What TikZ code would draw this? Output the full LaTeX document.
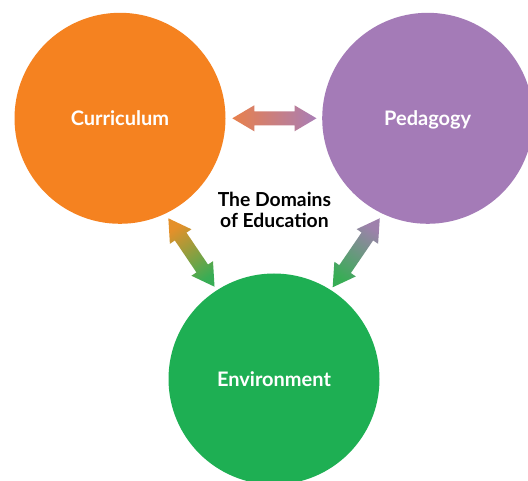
\documentclass[tikz,border=0pt]{standalone}
\usepackage{fontspec}
\setmainfont{Lato}
\usetikzlibrary{calc}

\definecolor{domOrange}{HTML}{F58220}
\definecolor{domPurple}{HTML}{A47BB7}
\definecolor{domGreen}{HTML}{1EAF53}
\definecolor{arrOrange}{HTML}{E8804C}
\definecolor{arrPurple}{HTML}{A97EB6}
\definecolor{arrGold}{HTML}{E4902A}
\definecolor{arrGreen}{HTML}{38AD55}
\definecolor{arrMauve}{HTML}{9E81AC}

% Block double arrow from #1 to #2: shaft half-width 7pt, head half-width 13pt, head length 22pt
\newcommand\blockarrow[3]{%
  \coordinate (ba-a) at ($(#1)!22pt!(#2)$);
  \coordinate (ba-b) at ($(#2)!22pt!(#1)$);
  \path[#3] (#1)
    -- ($(ba-a)!13pt!90:(#2)$) -- ($(ba-a)!7pt!90:(#2)$)
    -- ($(ba-b)!7pt!-90:(#1)$) -- ($(ba-b)!13pt!-90:(#1)$)
    -- (#2)
    -- ($(ba-b)!13pt!90:(#1)$) -- ($(ba-b)!7pt!90:(#1)$)
    -- ($(ba-a)!7pt!-90:(#2)$) -- ($(ba-a)!13pt!-90:(#2)$)
    -- cycle;
}

\begin{document}
\begin{tikzpicture}[x=1pt,y=1pt,
  domainball/.style={circle, minimum size=211pt, inner sep=0pt, outer sep=0pt,
    text=white, text height=14pt, text depth=0pt,
    font=\bfseries\fontsize{20}{24}\selectfont},
  titletext/.style={align=center, text=black,
    font=\bfseries\fontsize{19.3}{21.4}\selectfont}]
\useasboundingbox (0,0) rectangle (528,480);
\fill[white] (0,0) rectangle (528,480);

\begin{scope}
  \clip (0,0) rectangle (528,480);
  \node[domainball, fill=domOrange] (cur) at (120,361.7) {Curriculum};
  \node[domainball, fill=domPurple] (ped) at (427.7,361.7) {Pedagogy};
  \node[domainball, fill=domGreen]  (env) at (274,101) {Environment};
\end{scope}

\node[titletext] (ttl) at (274.4,270) {The Domains\\of Education};

% arrow end points, just off each circle
\coordinate (cp-a) at ($(cur.center)+(0:112.3)$);
\coordinate (cp-b) at ($(ped.center)+(180:111.2)$);
\coordinate (ce-a) at ($(cur.center)+(-64.2:111.1)$);
\coordinate (ce-b) at ($(env.center)+(122.8:109.8)$);
\coordinate (pe-a) at ($(ped.center)+(244.4:110.9)$);
\coordinate (pe-b) at ($(env.center)+(57.4:108.9)$);

\blockarrow{cp-a}{cp-b}{left color=arrOrange, right color=arrPurple}
\blockarrow{ce-a}{ce-b}{top color=arrGold, bottom color=arrGreen, shading angle=34}
\blockarrow{pe-a}{pe-b}{top color=arrMauve, bottom color=arrGreen, shading angle=-34.3}
\end{tikzpicture}
\end{document}
